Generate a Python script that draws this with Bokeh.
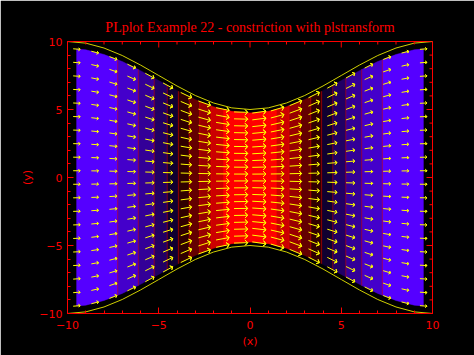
import numpy as np
from bokeh.plotting import figure
from bokeh.models import SingleIntervalTicker, Range1d
from bokeh.embed import file_html
from bokeh.resources import INLINE

# ---------------- data ----------------
# channel half-width (yellow boundary) at integer x
x_edges = [-10, -9, -8, -7, -6, -5, -4, -3, -2, -1, 0, 1, 2, 3, 4, 5, 6, 7, 8, 9, 10]
half_width = [10.0, 9.88, 9.52, 8.97, 8.27, 7.5, 6.73, 6.03, 5.48, 5.12, 5.0,
              5.12, 5.48, 6.03, 6.73, 7.5, 8.27, 8.97, 9.52, 9.88, 10.0]
# vector grid columns and their speed u
x_cols = [-9.5, -8.5, -7.5, -6.5, -5.5, -4.5, -3.5, -2.5, -1.5, -0.5,
          0.5, 1.5, 2.5, 3.5, 4.5, 5.5, 6.5, 7.5, 8.5, 9.5]
u_cols = [2.01, 2.06, 2.16, 2.32, 2.53, 2.81, 3.14, 3.49, 3.79, 3.98,
          3.98, 3.79, 3.49, 3.14, 2.81, 2.53, 2.32, 2.16, 2.06, 2.01]
# vector grid rows (untransformed)
y_rows = [-9.5, -8.5, -7.5, -6.5, -5.5, -4.5, -3.5, -2.5, -1.5, -0.5,
          0.5, 1.5, 2.5, 3.5, 4.5, 5.5, 6.5, 7.5, 8.5, 9.5]
# shade levels and colours
levels = [2.0, 2.2, 2.4, 2.6, 2.8, 3.0, 3.2, 3.4, 3.6, 3.8, 4.0]
shade_colors = ["#5500ff", "#4400cb", "#330098", "#210064", "#100030",
                "#300000", "#640000", "#980000", "#cb0000", "#ff0000"]
tick_values = [-10, -5, 0, 5, 10]
minor_tick_values = [-9, -8, -7, -6, -4, -3, -2, -1, 1, 2, 3, 4, 6, 7, 8, 9]
title_text = "PLplot Example 22 - constriction with plstransform"
x_label = "(x)"
y_label = "(y)"

# ---------------- layout ----------------
W, H = 474, 355
BL, BR, BT, BB = 67, 42, 41, 42
xmin, xmax, ymin, ymax = -10, 10, -10, 10
sx = (W - BL - BR) / (xmax - xmin)
sy = (H - BT - BB) / (ymax - ymin)
MAJ, MIN = 6, 3  # tick lengths in pixels

xe = np.array(x_edges, float)
hw = np.array(half_width, float)


def hwf(x):
    return np.interp(x, xe, hw)


p = figure(width=W, height=H, x_range=Range1d(xmin, xmax), y_range=Range1d(ymin, ymax),
           output_backend="svg", toolbar_location=None,
           min_border_left=BL, min_border_right=BR, min_border_top=BT, min_border_bottom=BB,
           background_fill_color="black", border_fill_color="black",
           title=title_text)
p.grid.visible = False
p.outline_line_color = "#ff0000"
p.outline_line_width = 1

p.title.text_color = "#ff0000"
p.title.text_font = "Liberation Serif"
p.title.text_font_size = "14px"
p.title.text_font_style = "normal"
p.title.align = "center"
p.title.standoff = 13

# ---------------- shades ----------------
ufull = np.array(u_cols)
xc = np.array(x_cols)
u_left, x_left = ufull[:10], xc[:10]
u_right, x_right = ufull[10:][::-1], xc[10:][::-1]
top_frac = y_rows[-1] / ymax


def xl(L):
    return float(np.interp(L, u_left, x_left))


def xr(L):
    return float(np.interp(L, u_right, x_right))


def band_poly(a, b):
    xs = sorted(set([a, b] + [k for k in x_edges if a < k < b]))
    xs = np.array(xs)
    top = top_frac * hwf(xs)
    return list(xs) + list(xs[::-1]), list(top) + list(-top[::-1])


pxs, pys, pcs = [], [], []
nb = len(levels) - 1
for i in range(nb):
    lo, hi = levels[i], levels[i + 1]
    if i == nb - 1:
        segs = [(xl(lo), xr(lo))]
    else:
        segs = [(xl(lo), xl(hi)), (xr(hi), xr(lo))]
    for a, b in segs:
        if b - a <= 1e-9:
            continue
        X, Y = band_poly(a, b)
        pxs.append(X)
        pys.append(Y)
        pcs.append(shade_colors[i])
p.patches(pxs, pys, fill_color=pcs, line_color=pcs, line_width=0.5)

# contour lines (red) at inner level crossings
cx0, cy0, cx1, cy1 = [], [], [], []
for L in levels[1:-1]:
    for xx in (xl(L), xr(L)):
        t = top_frac * hwf(xx)
        cx0.append(xx); cy0.append(-t); cx1.append(xx); cy1.append(t)
p.segment(cx0, cy0, cx1, cy1, line_color="#ff0000", line_width=0.6, line_alpha=0.8)

# ---------------- arrows ----------------
scale = 1.5 * 1.0 / max(u_cols)
ax = np.array([-0.5, 0.5, 0.3, 0.5, 0.3, 0.5])
ay = np.array([0.0, 0.0, 0.2, 0.0, -0.2, 0.0])
axs, ays = [], []
for x0, u in zip(x_cols, u_cols):
    uu = scale * u
    x1 = x0 + 0.5 * uu
    for yr in y_rows:
        y0 = yr * hwf(x0) / ymax
        y1 = yr * hwf(x1) / ymax
        dpx = (x1 - x0) * sx
        dpy = (y1 - y0) * sy
        px = ax * dpx - ay * dpy
        py = ax * dpy + ay * dpx
        axs.append(list(x0 + px / sx))
        ays.append(list(y0 + py / sy))
p.multi_line(axs, ays, line_color="#ffff00", line_width=1)

# ---------------- boundary paths ----------------
p.line(x_edges, half_width, line_color="#e6e600", line_width=0.9)
p.line(x_edges, [-v for v in half_width], line_color="#e6e600", line_width=0.9)

# ---------------- ticks on the top and right edges ----------------
tx0, ty0, tx1, ty1 = [], [], [], []
for vals, ln in ((tick_values, MAJ), (minor_tick_values, MIN)):
    for v in vals:
        # top edge
        tx0.append(v); ty0.append(ymax); tx1.append(v); ty1.append(ymax - ln / sy)
        # right edge
        tx0.append(xmax); ty0.append(v); tx1.append(xmax - ln / sx); ty1.append(v)
p.segment(tx0, ty0, tx1, ty1, line_color="#ff0000", line_width=1)

# ---------------- axes ----------------
def style_axis(a):
    a.ticker = SingleIntervalTicker(interval=5, num_minor_ticks=5)
    a.axis_line_color = "#ff0000"
    a.major_tick_line_color = "#ff0000"
    a.minor_tick_line_color = "#ff0000"
    a.major_tick_in = MAJ
    a.major_tick_out = 0
    a.minor_tick_in = MIN
    a.minor_tick_out = 0
    a.major_label_text_color = "#ff0000"
    a.major_label_text_font = "DejaVu Sans"
    a.major_label_text_font_size = "11px"
    a.axis_label_text_color = "#ff0000"
    a.axis_label_text_font = "DejaVu Sans"
    a.axis_label_text_font_size = "11px"
    a.axis_label_text_font_style = "normal"


xa = p.xaxis[0]
ya = p.yaxis[0]
style_axis(xa)
style_axis(ya)
xa.axis_label = x_label
ya.axis_label = y_label
xa.major_label_standoff = 7
xa.axis_label_standoff = 3
ya.major_label_standoff = 5
ya.axis_label_standoff = 2
ya.major_label_orientation = "horizontal"

open("out.html", "w").write(file_html(p, INLINE))
